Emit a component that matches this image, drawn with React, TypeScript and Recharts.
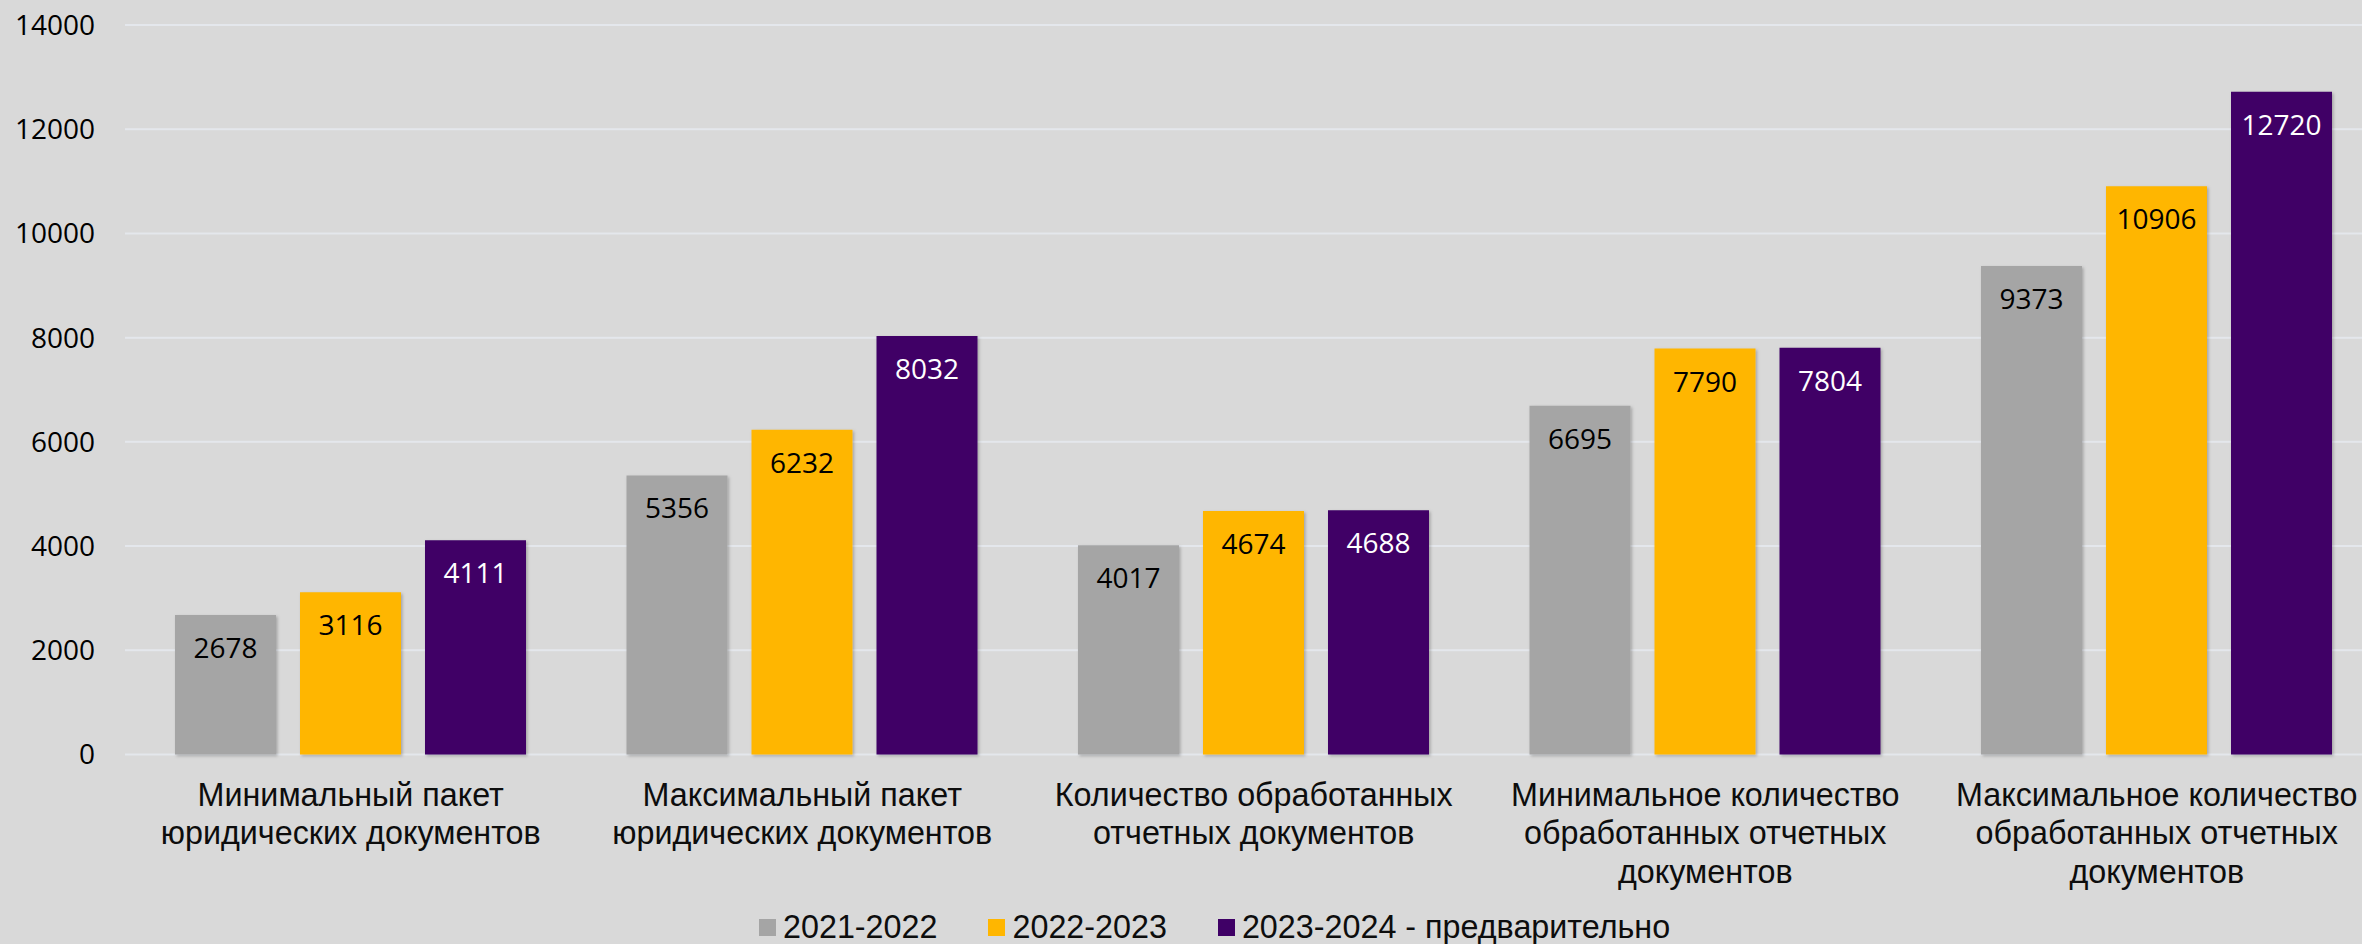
import { BarChart, Bar, XAxis, YAxis, CartesianGrid, LabelList } from "recharts";

// categories (line breaks as in the original)
const categories = [
  "Минимальный пакет\nюридических документов",
  "Максимальный пакет\nюридических документов",
  "Количество обработанных\nотчетных документов",
  "Минимальное количество\nобработанных отчетных\nдокументов",
  "Максимальное количество\nобработанных отчетных\nдокументов",
];

const values2122 = [2678, 5356, 4017, 6695, 9373];
const values2223 = [3116, 6232, 4674, 7790, 10906];
const values2324 = [4111, 8032, 4688, 7804, 12720];

const yTicks = [0, 2000, 4000, 6000, 8000, 10000, 12000, 14000];

const series = [
  { key: "s2122", name: "2021-2022", color: "#A5A5A5", labelColor: "#000000" },
  { key: "s2223", name: "2022-2023", color: "#FFB600", labelColor: "#000000" },
  { key: "s2324", name: "2023-2024 - предварительно", color: "#3F0066", labelColor: "#FFFFFF" },
];

const data = categories.map((name, i) => ({
  name,
  s2122: values2122[i],
  s2223: values2223[i],
  s2324: values2324[i],
}));

const numFont = "'Open Sans', 'Noto Sans', sans-serif";
const textFont = "'Liberation Sans', Arial, sans-serif";

function CategoryTick({ x, y, payload }: any) {
  const lines = String(payload.value).split("\n");
  return (
    <text x={x} y={y} textAnchor="middle" fontFamily={textFont} fontSize={32.3} fill="#0D0D0D">
      {lines.map((line, i) => (
        <tspan key={i} x={x} dy={i === 0 ? 51 : 38.5}>
          {line}
        </tspan>
      ))}
    </text>
  );
}

function makeValueLabel(fill: string) {
  return (props: any) => {
    const { x, y, width, value } = props;
    return (
      <text
        x={Number(x) + Number(width) / 2}
        y={Number(y) + 43}
        textAnchor="middle"
        fontFamily={numFont}
        fontSize={28}
        fill={fill}
      >
        {value}
      </text>
    );
  };
}

function ChartLegend() {
  return (
    <div
      style={{
        position: "absolute",
        left: 759,
        top: 911,
        height: 32,
        display: "flex",
        alignItems: "center",
        fontFamily: textFont,
        fontSize: 32.3,
        lineHeight: "32px",
        color: "#0D0D0D",
        whiteSpace: "nowrap",
      }}
    >
      {series.map((s, i) => (
        <div key={s.key} style={{ display: "flex", alignItems: "center", marginRight: i < series.length - 1 ? 51 : 0 }}>
          <span style={{ width: 17, height: 17, background: s.color, marginRight: 7, display: "inline-block" }} />
          <span>{s.name}</span>
        </div>
      ))}
    </div>
  );
}

export default function App() {
  return (
    <div
      style={{
        position: "absolute",
        left: 0,
        top: 0,
        width: 2362,
        height: 944,
        overflow: "hidden",
        background: "#D9D9D9",
      }}
    >
      <BarChart
        width={2400}
        height={944}
        data={data}
        margin={{ top: 25, right: 17.5, bottom: 69.5, left: 0 }}
        barSize={101}
        barGap={24}
      >
        <defs>
          <filter id="barShadow" x="-10%" y="-10%" width="130%" height="130%">
            <feDropShadow dx="1.5" dy="1.5" stdDeviation="1.5" floodColor="#000" floodOpacity="0.25" />
          </filter>
        </defs>
        <CartesianGrid vertical={false} stroke="#E4E7EC" strokeWidth={2} />
        <XAxis
          dataKey="name"
          height={120}
          axisLine={false}
          tickLine={false}
          tickSize={0}
          tickMargin={0}
          interval={0}
          tick={<CategoryTick />}
        />
        <YAxis
          width={125}
          domain={[0, 14000]}
          ticks={yTicks}
          axisLine={false}
          tickLine={false}
          tickSize={0}
          tickMargin={30}
          tick={{ fontFamily: numFont, fontSize: 28, fill: "#000000" }}
        />
        {series.map((s) => (
          <Bar
            key={s.key}
            dataKey={s.key}
            name={s.name}
            fill={s.color}
            isAnimationActive={false}
            style={{ filter: "url(#barShadow)" }}
          >
            <LabelList dataKey={s.key} content={makeValueLabel(s.labelColor)} />
          </Bar>
        ))}
      </BarChart>
      <ChartLegend />
    </div>
  );
}
